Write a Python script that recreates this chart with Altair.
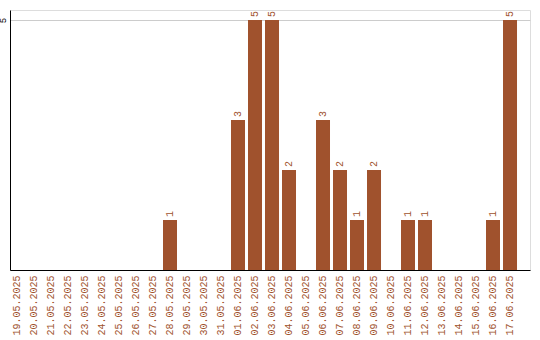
import altair as alt
import pandas as pd

dates = ["19.05.2025", "20.05.2025", "21.05.2025", "22.05.2025", "23.05.2025",
         "24.05.2025", "25.05.2025", "26.05.2025", "27.05.2025", "28.05.2025",
         "29.05.2025", "30.05.2025", "31.05.2025", "01.06.2025", "02.06.2025",
         "03.06.2025", "04.06.2025", "05.06.2025", "06.06.2025", "07.06.2025",
         "08.06.2025", "09.06.2025", "10.06.2025", "11.06.2025", "12.06.2025",
         "13.06.2025", "14.06.2025", "15.06.2025", "16.06.2025", "17.06.2025"]
counts = [0, 0, 0, 0, 0, 0, 0, 0, 0, 1,
          0, 0, 0, 3, 5, 5, 2, 0, 3, 2,
          1, 2, 0, 1, 1, 0, 0, 0, 1, 5]
y_ticks = [5]

df = pd.DataFrame({"date": dates, "count": counts})

COLOR = "#A0522D"
FONT = "Liberation Mono"

x_enc = alt.X(
    "date:N", sort=dates, title=None,
    scale=alt.Scale(paddingInner=3 / 17, paddingOuter=0.382, align=0),
    axis=alt.Axis(labelAngle=270, labelAlign="right", labelBaseline="middle",
                  labelPadding=5, ticks=False, domainColor="#000000",
                  labelColor=COLOR, labelFont=FONT, labelFontSize=10,
                  grid=False),
)
y_enc = alt.Y(
    "count:Q", title=None,
    scale=alt.Scale(domain=[0, 5.2], nice=False),
    axis=alt.Axis(values=y_ticks, ticks=False, grid=True, gridColor="#cccccc",
                  domainColor="#000000", labelAngle=270, labelAlign="center",
                  labelBaseline="bottom", labelPadding=3, labelFont=FONT,
                  labelFontSize=9, labelColor="#000000"),
)

bars = alt.Chart(df).mark_bar(color=COLOR).encode(x=x_enc, y=y_enc)
labels = alt.Chart(df).transform_filter("datum.count > 0").mark_text(
    angle=270, align="left", baseline="middle", dx=3,
    font=FONT, fontSize=10, color=COLOR,
).encode(x=alt.X("date:N", sort=dates), y="count:Q", text="count:Q")

chart = (bars + labels).properties(
    width=520, height=260,
    autosize=alt.AutoSizeParams(type="none"),
    padding={"left": 10, "top": 10, "right": 10, "bottom": 70},
).configure_view(stroke=None).configure(background="#ffffff")

chart.save("out.html", embed_options={"renderer": "svg", "actions": False})
